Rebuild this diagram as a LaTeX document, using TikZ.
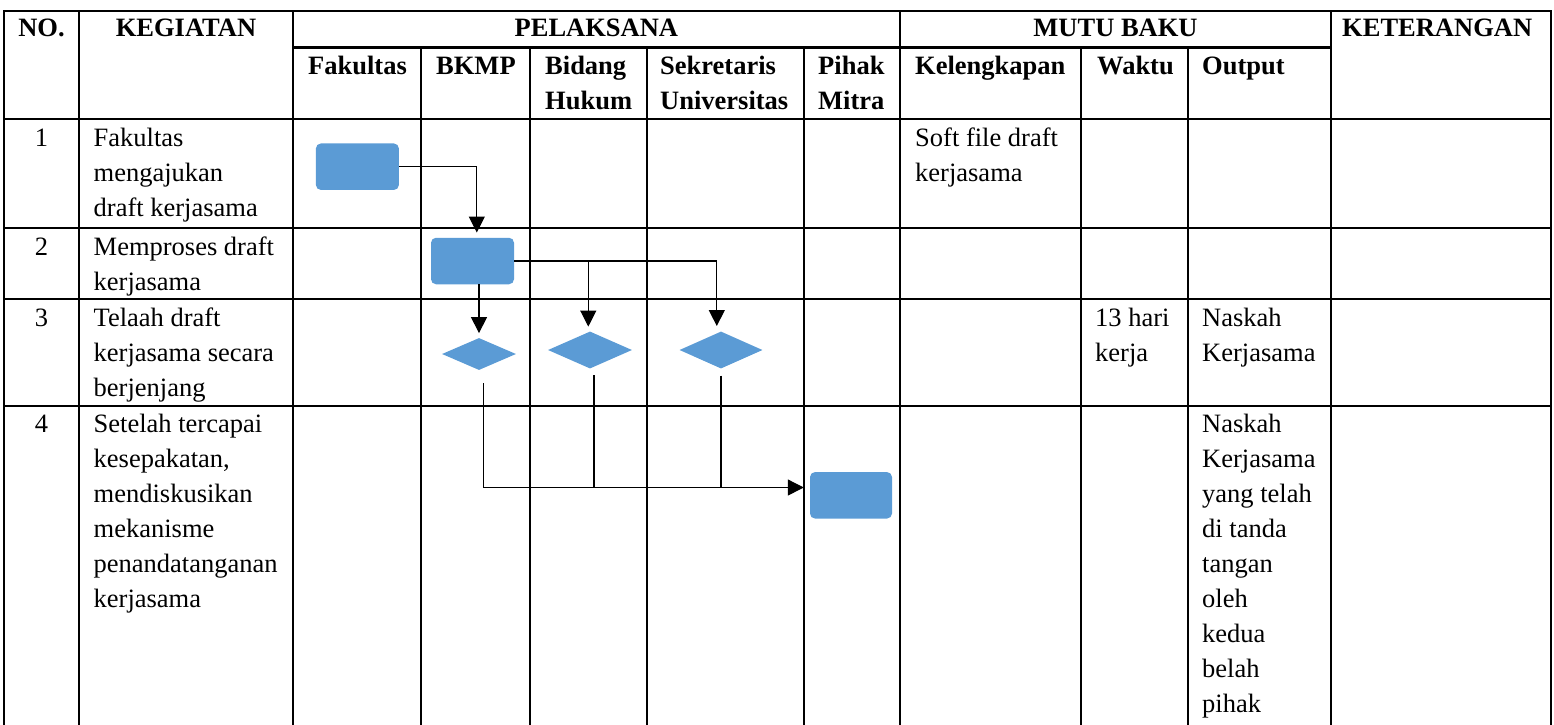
\documentclass[tikz,border=0pt]{standalone}
\usepackage{fontspec}
\setmainfont{Liberation Serif}
\usetikzlibrary{arrows.meta,shapes.geometric}
\definecolor{flowblue}{HTML}{5B9BD5}
% multi-line cell text whose baseline is the first line
\newcommand\celltext[1]{\begin{tabular}[t]{@{}l@{}}#1\end{tabular}}

\begin{document}
\begin{tikzpicture}[x=1pt,y=-1pt,
  rule/.style={line width=2.3pt, line cap=rect},
  txt/.style={font=\fontsize{26.5}{35}\selectfont, inner sep=0pt, anchor=base west},
  hd/.style={txt, font=\fontsize{26.5}{35}\selectfont\bfseries},
  mid/.style={anchor=base},
  proc/.style={rectangle, rounded corners=5pt, fill=flowblue, draw=none,
    minimum width=83pt, minimum height=46.5pt, inner sep=0pt},
  dec/.style={diamond, fill=flowblue, draw=none, inner sep=0pt},
  conn/.style={line width=1.1pt, black},
  arr/.style={conn, -{Triangle[length=16pt,width=16pt]}}
]
\useasboundingbox (0,0) rectangle (1554,724);

% ---- table grid ----
% horizontal rules
\draw[rule] (4,11) -- (1551,11);
\draw[rule] (292.7,47.5) -- (1331,47.5);
\draw[rule] (4,119) -- (1551,119);
\draw[rule] (4,227.7) -- (1551,227.7);
\draw[rule] (4,299) -- (1551,299);
\draw[rule] (4,405.7) -- (1551,405.7);
% full-height vertical rules
\foreach \x in {4,79,292.7,900,1331,1551}
  \draw[rule] (\x,11) -- (\x,724);
% vertical rules below the group headings
\foreach \x in {420.7,530,646.7,804,1081,1188}
  \draw[rule] (\x,47.5) -- (\x,724);

% ---- headings ----
\node[hd,mid] (hno)  at (41.5,36.7) {NO.};
\node[hd,mid] (hkeg) at (186,36.7) {KEGIATAN};
\node[hd,mid] (hpel) at (596.4,36.7) {PELAKSANA};
\node[hd,mid] (hmut) at (1115.5,36.7) {MUTU BAKU};
\node[hd] (hket) at (1342,36.7) {KETERANGAN};

\node[hd] (hfak) at (308,74) {Fakultas};
\node[hd] (hbkm) at (436,74) {BKMP};
\node[hd] (hbid) at (545,74) {\celltext{Bidang\\Hukum}};
\node[hd] (hsek) at (660,74) {\celltext{Sekretaris\\Universitas}};
\node[hd] (hpih) at (818,74) {\celltext{Pihak\\Mitra}};
\node[hd] (hkel) at (915,74) {Kelengkapan};
\node[hd] (hwak) at (1097,74) {Waktu};
\node[hd] (hout) at (1202,74) {Output};

% ---- rows ----
\node[txt,mid] (n1) at (41.5,146.5) {1};
\node[txt] (k1) at (93.5,146.5) {\celltext{Fakultas\\mengajukan\\draft kerjasama}};
\node[txt] (l1) at (915,146.5) {\celltext{Soft file draft\\kerjasama}};

\node[txt,mid] (n2) at (41.5,255.5) {2};
\node[txt] (k2) at (93.5,255.5) {\celltext{Memproses draft\\kerjasama}};

\node[txt,mid] (n3) at (41.5,326.5) {3};
\node[txt] (k3) at (93.5,326.5) {\celltext{Telaah draft\\kerjasama secara\\berjenjang}};
\node[txt] (w3) at (1095,326.5) {\celltext{13 hari\\kerja}};
\node[txt] (o3) at (1202,326.5) {\celltext{Naskah\\Kerjasama}};

\node[txt,mid] (n4) at (41.5,432.5) {4};
\node[txt] (k4) at (93.5,432.5) {\celltext{Setelah tercapai\\kesepakatan,\\mendiskusikan\\mekanisme\\penandatanganan\\kerjasama}};
\node[txt] (o4) at (1202,432.5) {\celltext{Naskah\\Kerjasama\\yang telah\\di tanda\\tangan\\oleh\\kedua\\belah\\pihak}};

% ---- flow symbols ----
\node[proc] (p1) at (357.4,166.7) {};
\node[proc] (p2) at (472.5,261) {};
\node[proc, minimum width=82pt] (p3) at (851,495.3) {};
\node[dec, minimum width=74pt, minimum height=32pt] (d1) at (479,354) {};
\node[dec, minimum width=84pt, minimum height=37pt] (d2) at (590,350) {};
\node[dec, minimum width=83pt, minimum height=37pt] (d3) at (721,350) {};

% ---- connectors ----
\draw[arr, shorten >=5pt] (p1.east) -| ([xshift=4.3pt]p2.north);
\draw[arr, shorten >=4.7pt] (p2.south -| d1.north) -- (d1.north);
\draw[arr, shorten >=4.7pt] (p2.east) -| ([xshift=-1.7pt]d2.north);
\draw[arr, shorten >=5.3pt] (p2.east) -| ([xshift=-4.2pt]d3.north);
\coordinate (bus) at (700,487.5);
\draw[arr, shorten <=13pt, shorten >=6pt] ([xshift=4.5pt]d1.south) |- (bus -| p3.west);
\draw[conn, shorten <=6.3pt] ([xshift=4pt]d2.south) -- ([xshift=4pt]d2.south |- bus);
\draw[conn, shorten <=7pt] (d3.south) -- (d3.south |- bus);
\end{tikzpicture}
\end{document}
